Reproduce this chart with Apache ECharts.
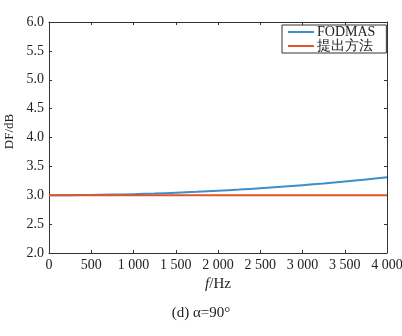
<!DOCTYPE html>
<html>
<head>
<meta charset="utf-8">
<script src="https://cdn.jsdelivr.net/npm/echarts@6/dist/echarts.min.js"></script>
<style>
  html, body { margin: 0; padding: 0; background: #fff; }
  #chart { width: 402px; height: 336px; }
</style>
</head>
<body>
<div id="chart"></div>
<script>
// Frequency samples (Hz)
const freq = [0, 250, 500, 750, 1000, 1250, 1500, 1750, 2000, 2250, 2500, 2750, 3000, 3250, 3500, 3750, 4000];
// DF (dB) of FODMAS
const dfFodmas = [3.000, 3.001, 3.005, 3.011, 3.019, 3.030, 3.044, 3.060, 3.078, 3.098, 3.121, 3.146, 3.174, 3.204, 3.237, 3.272, 3.310];
// DF (dB) of the proposed method
const dfProposed = [3.0, 3.0, 3.0, 3.0, 3.0, 3.0, 3.0, 3.0, 3.0, 3.0, 3.0, 3.0, 3.0, 3.0, 3.0, 3.0, 3.0];
// Axis tick labels
const xTickLabels = ['0', '500', '1 000', '1 500', '2 000', '2 500', '3 000', '3 500', '4 000'];
const yTickLabels = ['2.0', '2.5', '3.0', '3.5', '4.0', '4.5', '5.0', '5.5', '6.0'];
const seriesNames = ['FODMAS', '提出方法'];

const serif = '"Liberation Serif", "Times New Roman", serif';
const axisColor = '#333';

const pairs = (ys) => freq.map((f, i) => [f, ys[i]]);

const chart = echarts.init(document.getElementById('chart'), null, { renderer: 'canvas' });

const tickCommon = { show: true, inside: true, length: 3, lineStyle: { color: axisColor, width: 1 } };
const lineCommon = { show: true, onZero: false, lineStyle: { color: axisColor, width: 1 } };

chart.setOption({
  backgroundColor: '#fff',
  animation: false,
  grid: { left: 49, right: 15, top: 22, bottom: 83, containLabel: false, outerBoundsMode: 'none' },
  legend: {
    orient: 'vertical',
    left: 282,
    top: 25,
    itemWidth: 26,
    itemHeight: 2,
    itemGap: 0,
    padding: [0, 11, 0, 5],
    borderColor: axisColor,
    borderWidth: 1,
    backgroundColor: '#fff',
    textStyle: { fontFamily: serif, fontSize: 14, lineHeight: 13, color: '#222', padding: [0, 0, 0, -2] },
    data: seriesNames
  },
  xAxis: [
    {
      type: 'value', min: 0, max: 4000, interval: 500,
      position: 'bottom',
      name: '{i|f}/Hz', nameLocation: 'middle', nameGap: 20,
      nameTextStyle: {
        fontFamily: serif, fontSize: 15, color: '#222',
        rich: { i: { fontFamily: serif, fontSize: 15, fontStyle: 'italic', color: '#222' } }
      },
      axisLine: lineCommon,
      axisTick: tickCommon,
      splitLine: { show: false },
      axisLabel: {
        fontFamily: serif, fontSize: 14, color: '#222', margin: 5,
        formatter: (v) => xTickLabels[Math.round(v / 500)]
      }
    },
    {
      type: 'value', min: 0, max: 4000, interval: 500,
      position: 'top',
      axisLine: lineCommon,
      axisTick: tickCommon,
      splitLine: { show: false },
      axisLabel: { show: false }
    }
  ],
  yAxis: [
    {
      type: 'value', min: 2, max: 6, interval: 0.5,
      position: 'left',
      name: 'DF/dB', nameLocation: 'middle', nameGap: 28,
      nameTextStyle: { fontFamily: serif, fontSize: 13, color: '#222', padding: [0, 0, 0, 12] },
      axisLine: lineCommon,
      axisTick: tickCommon,
      splitLine: { show: false },
      axisLabel: {
        fontFamily: serif, fontSize: 14, color: '#222', margin: 5,
        formatter: (v) => yTickLabels[Math.round((v - 2) / 0.5)]
      }
    },
    {
      type: 'value', min: 2, max: 6, interval: 0.5,
      position: 'right',
      axisLine: lineCommon,
      axisTick: tickCommon,
      splitLine: { show: false },
      axisLabel: { show: false }
    }
  ],
  series: [
    {
      name: seriesNames[0], type: 'line', symbol: 'none', smooth: true,
      xAxisIndex: 0, yAxisIndex: 0,
      lineStyle: { color: '#3d8ecb', width: 2 },
      itemStyle: { color: '#3d8ecb' },
      data: pairs(dfFodmas)
    },
    {
      name: seriesNames[1], type: 'line', symbol: 'none',
      xAxisIndex: 0, yAxisIndex: 0,
      lineStyle: { color: '#e0552b', width: 2 },
      itemStyle: { color: '#e0552b' },
      data: pairs(dfProposed)
    }
  ],
  graphic: [
    {
      type: 'text', left: 'center', top: 306,
      style: { text: '(d) α=90°', font: '15px ' + serif, fill: '#222' },
      x: -10
    }
  ]
});
</script>
</body>
</html>
